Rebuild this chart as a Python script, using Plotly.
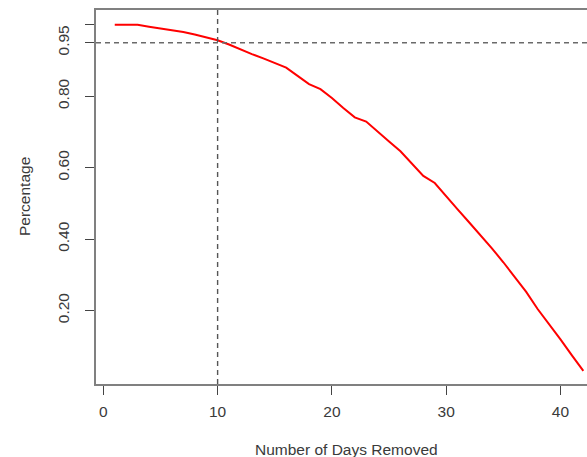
import plotly.graph_objects as go

days = list(range(1, 43))
percentage = [1.000, 1.000, 1.000, 0.995, 0.990, 0.986, 0.980, 0.973, 0.965, 0.957,
              0.945, 0.931, 0.918, 0.906, 0.894, 0.880, 0.857, 0.834, 0.820, 0.795,
              0.767, 0.741, 0.729, 0.700, 0.673, 0.646, 0.611, 0.577, 0.557, 0.519,
              0.483, 0.447, 0.411, 0.374, 0.335, 0.293, 0.252, 0.204, 0.163, 0.119,
              0.074, 0.031]

x_ticks = [0, 10, 20, 30, 40]
y_ticks = [0.20, 0.40, 0.60, 0.80, 0.95, 1.00]
y_ticktext = ["0.20", "0.40", "0.60", "0.80", "0.95", ""]

cutoff_day = 10
cutoff_pct = 0.95

FONT = "Arial, 'Liberation Sans', sans-serif"
FS = 15.5
TXT = "#3a3a3a"

fig = go.Figure()
fig.add_trace(go.Scatter(x=days, y=percentage, mode="lines",
                         line=dict(color="#ff0000", width=2), showlegend=False,
                         hoverinfo="skip"))

fig.add_hline(y=cutoff_pct, line=dict(color="#6a6a6a", width=1.5, dash="5px,4px"))
fig.add_vline(x=cutoff_day, line=dict(color="#555555", width=1.4, dash="5px,4px"))

pw = 587 - 96
ph = 457 - 10 - 73

fig.update_layout(
    width=587, height=457,
    margin=dict(l=96, r=0, t=10, b=73),
    paper_bgcolor="white", plot_bgcolor="white",
    font=dict(family=FONT, size=FS, color=TXT),
    showlegend=False,
    xaxis=dict(range=[-0.64, 42.32], tickvals=x_ticks, showgrid=False, zeroline=False,
               showline=True, mirror=True, linecolor="#808080", linewidth=1.5,
               ticks="outside", ticklen=9, tickcolor="#444444", tickwidth=1.2,
               tickfont=dict(size=FS, color=TXT), ticklabelstandoff=4),
    yaxis=dict(range=[-0.006, 1.0416], tickvals=y_ticks, ticktext=y_ticktext,
               tickangle=-90, showgrid=False, zeroline=False,
               showline=True, mirror=False, linecolor="#808080", linewidth=1.5,
               ticks="outside", ticklen=9, tickcolor="#444444", tickwidth=1.2,
               tickfont=dict(size=FS, color=TXT), ticklabelstandoff=10),
    annotations=[
        dict(text="Number of Days Removed", x=(346 - 96) / pw, y=(457 - 73 - 449) / ph,
             xref="paper", yref="paper", xanchor="center", yanchor="middle",
             showarrow=False, font=dict(size=FS, color=TXT)),
        dict(text="Percentage", x=(24 - 96) / pw, y=(457 - 73 - 197) / ph,
             xref="paper", yref="paper", xanchor="center", yanchor="middle",
             textangle=-90, showarrow=False, font=dict(size=FS, color=TXT)),
    ],
)

fig.write_html("out.html")
